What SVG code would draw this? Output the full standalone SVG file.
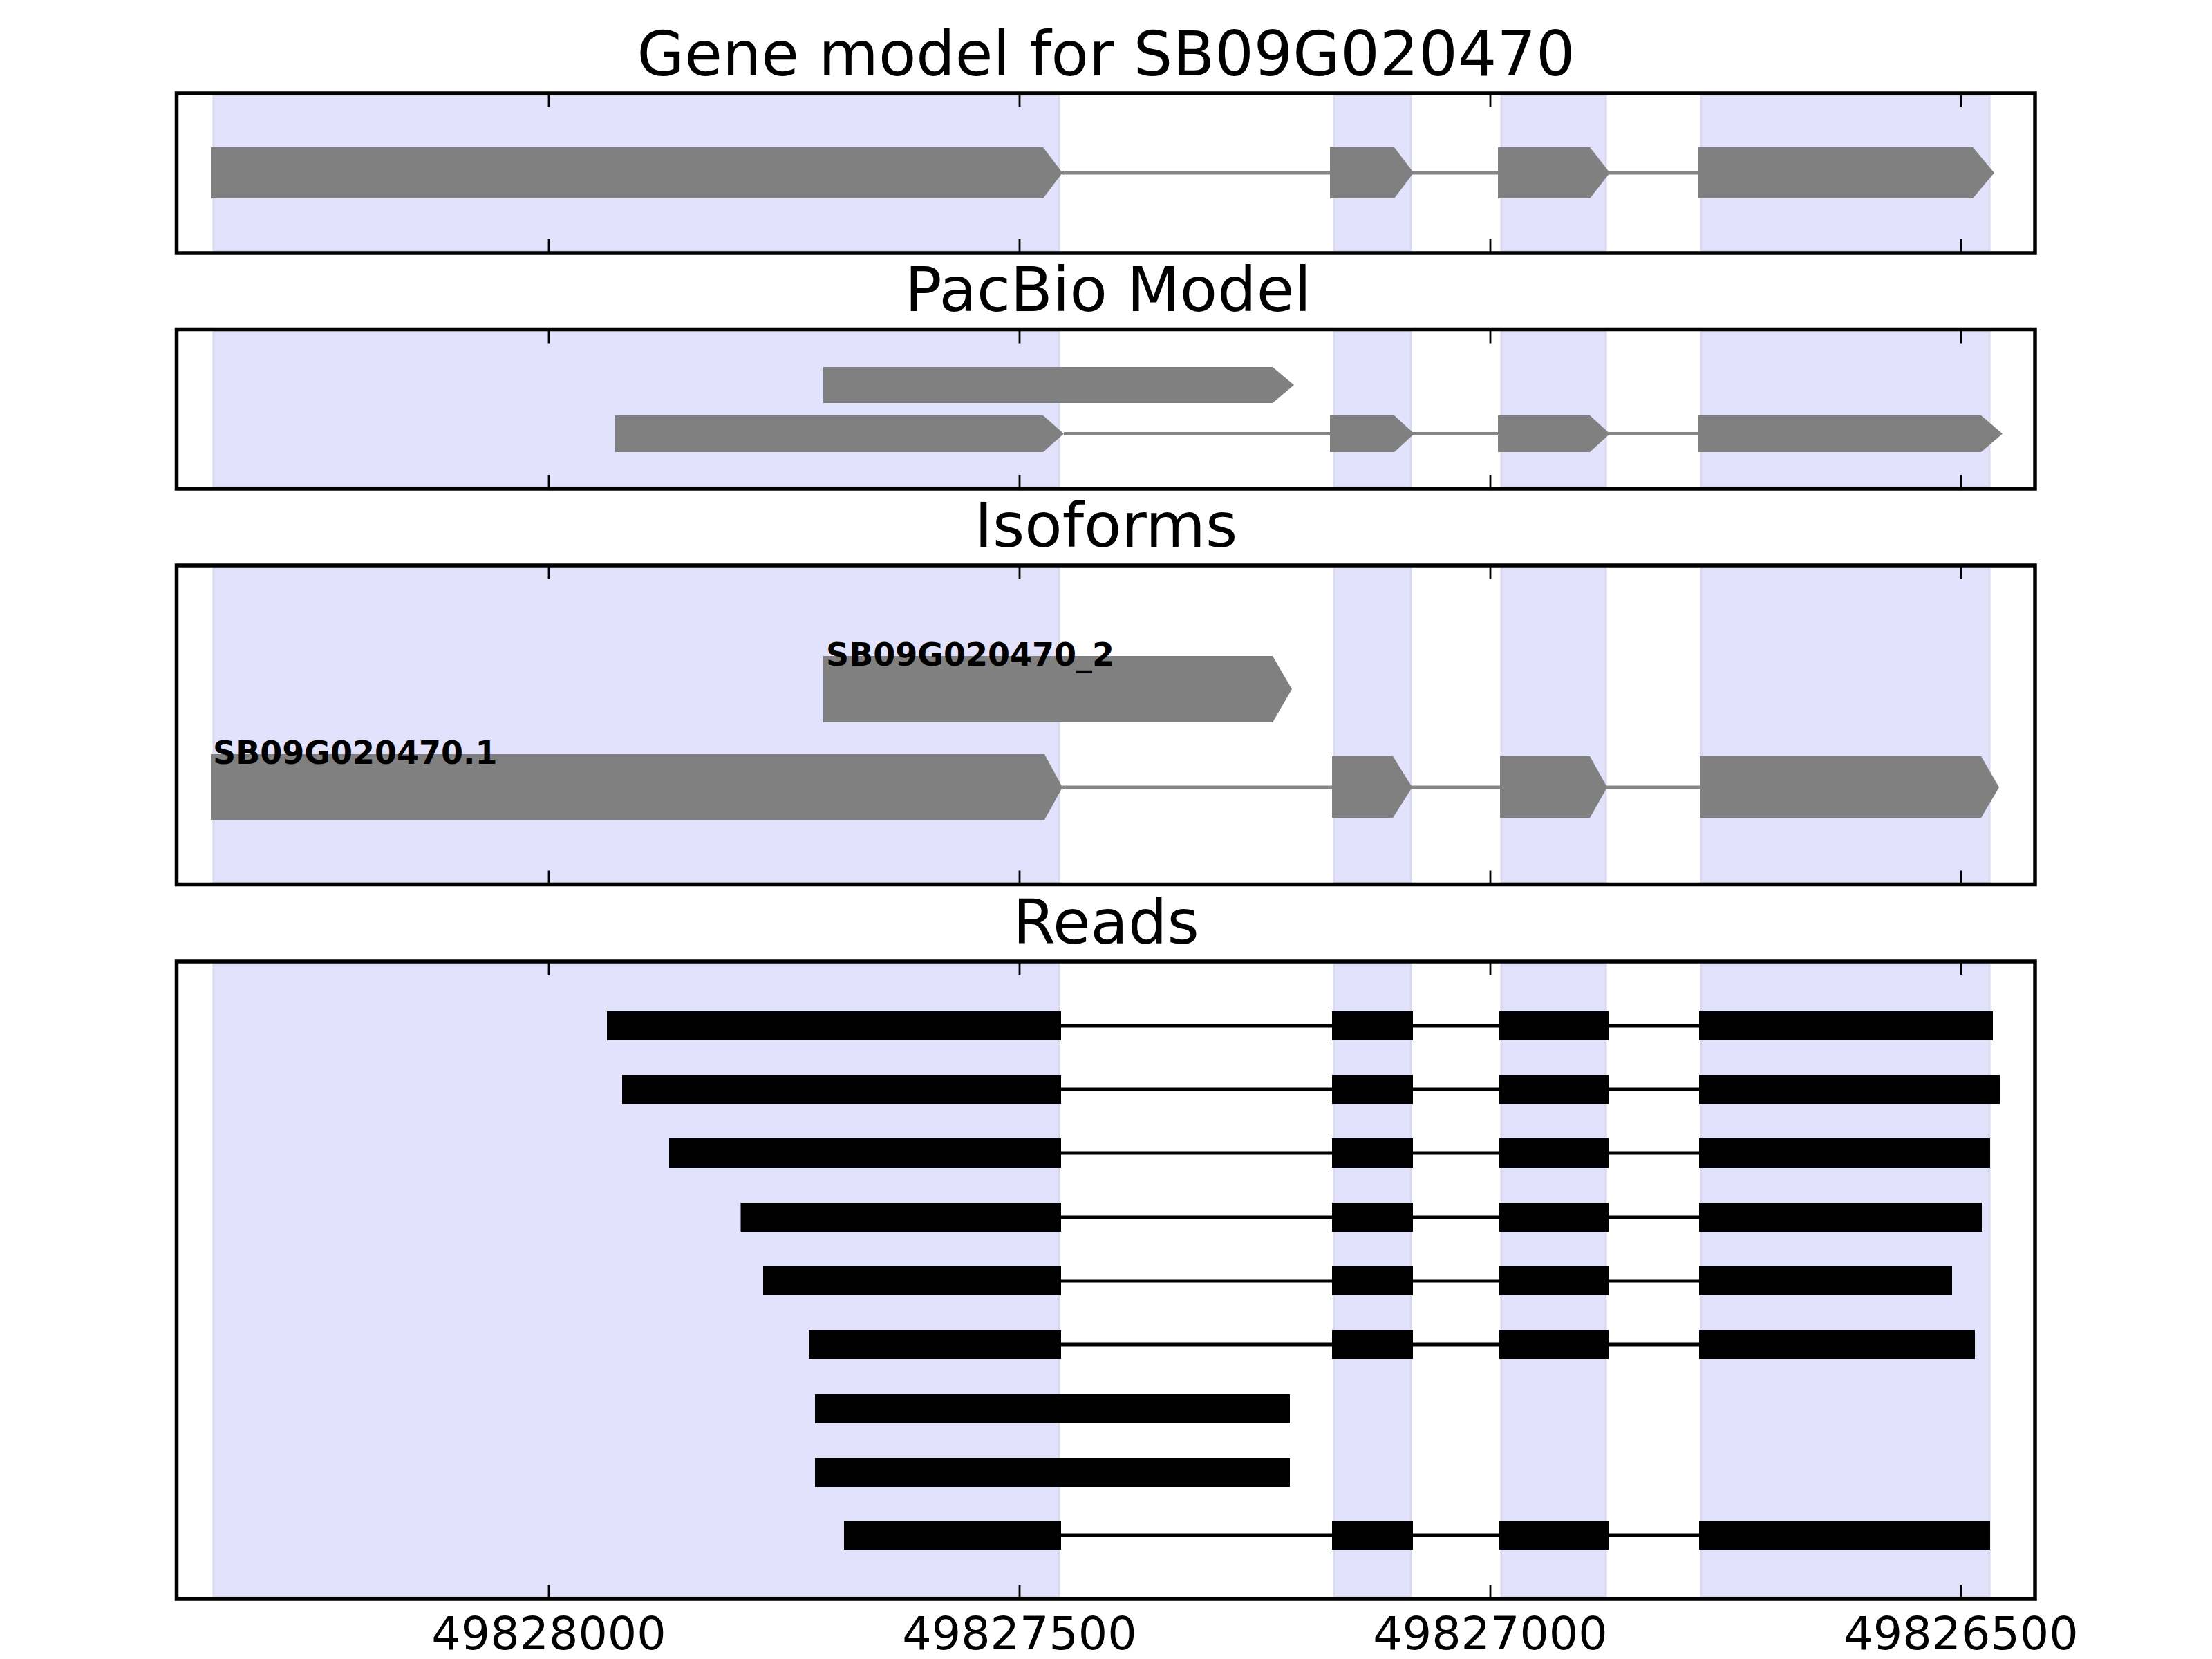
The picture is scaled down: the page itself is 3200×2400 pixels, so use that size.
<svg xmlns="http://www.w3.org/2000/svg" width="3200" height="2400" viewBox="0 0 3200 2400">
<style>
.bg{fill:#ffffff}
.shade{fill:#e2e2fd;stroke:#d8d8ee;stroke-width:3}
.frame{fill:none;stroke:#000;stroke-width:5.5}
.tick{stroke:#000;stroke-width:2.8}
.exon{fill:#808080}
.intron{stroke:#868686;stroke-width:5}
.rexon{fill:#000}
.rintron{stroke:#000;stroke-width:5}
.title{font-family:"DejaVu Sans","Liberation Sans",sans-serif;font-size:88.9px;text-anchor:middle;fill:#000}
.ticklabel{font-family:"DejaVu Sans","Liberation Sans",sans-serif;font-size:66.7px;text-anchor:middle;fill:#000}
.iso{font-family:"DejaVu Sans","Liberation Sans",sans-serif;font-size:46px;font-weight:bold;fill:#000}
</style>
<rect class="bg" x="0" y="0" width="3200" height="2400"/>

<!-- Panel 1: Gene model -->
<g id="panel-gene-model">
<text class="title" x="1600" y="109">Gene model for SB09G020470</text>
<g id="gm-shading">
<rect class="shade" x="309" y="138" width="1223" height="225"/>
<rect class="shade" x="1930" y="138" width="111" height="225"/>
<rect class="shade" x="2172" y="138" width="151" height="225"/>
<rect class="shade" x="2461" y="138" width="417" height="225"/>
</g>
<g id="gm-ticks">
<line class="tick" x1="794" y1="135" x2="794" y2="155"/><line class="tick" x1="794" y1="366" x2="794" y2="346"/>
<line class="tick" x1="1475" y1="135" x2="1475" y2="155"/><line class="tick" x1="1475" y1="366" x2="1475" y2="346"/>
<line class="tick" x1="2156" y1="135" x2="2156" y2="155"/><line class="tick" x1="2156" y1="366" x2="2156" y2="346"/>
<line class="tick" x1="2837" y1="135" x2="2837" y2="155"/><line class="tick" x1="2837" y1="366" x2="2837" y2="346"/>
</g>
<rect class="frame" x="255.5" y="135" width="2688.5" height="231"/>
</g>

<!-- Panel 2: PacBio -->
<g id="panel-pacbio">
<text class="title" x="1603" y="450">PacBio Model</text>
<g id="pb-shading">
<rect class="shade" x="309" y="479.5" width="1223" height="225"/>
<rect class="shade" x="1930" y="479.5" width="111" height="225"/>
<rect class="shade" x="2172" y="479.5" width="151" height="225"/>
<rect class="shade" x="2461" y="479.5" width="417" height="225"/>
</g>
<g id="pb-ticks">
<line class="tick" x1="794" y1="476.5" x2="794" y2="496.5"/><line class="tick" x1="794" y1="707" x2="794" y2="687"/>
<line class="tick" x1="1475" y1="476.5" x2="1475" y2="496.5"/><line class="tick" x1="1475" y1="707" x2="1475" y2="687"/>
<line class="tick" x1="2156" y1="476.5" x2="2156" y2="496.5"/><line class="tick" x1="2156" y1="707" x2="2156" y2="687"/>
<line class="tick" x1="2837" y1="476.5" x2="2837" y2="496.5"/><line class="tick" x1="2837" y1="707" x2="2837" y2="687"/>
</g>
<rect class="frame" x="255.5" y="476.5" width="2688.5" height="230.5"/>
</g>

<!-- Panel 3: Isoforms -->
<g id="panel-isoforms">
<text class="title" x="1600" y="791">Isoforms</text>
<g id="iso-shading">
<rect class="shade" x="309" y="821" width="1223" height="456"/>
<rect class="shade" x="1930" y="821" width="111" height="456"/>
<rect class="shade" x="2172" y="821" width="151" height="456"/>
<rect class="shade" x="2461" y="821" width="417" height="456"/>
</g>
<g id="iso-ticks">
<line class="tick" x1="794" y1="818" x2="794" y2="838"/><line class="tick" x1="794" y1="1279.5" x2="794" y2="1259.5"/>
<line class="tick" x1="1475" y1="818" x2="1475" y2="838"/><line class="tick" x1="1475" y1="1279.5" x2="1475" y2="1259.5"/>
<line class="tick" x1="2156" y1="818" x2="2156" y2="838"/><line class="tick" x1="2156" y1="1279.5" x2="2156" y2="1259.5"/>
<line class="tick" x1="2837" y1="818" x2="2837" y2="838"/><line class="tick" x1="2837" y1="1279.5" x2="2837" y2="1259.5"/>
</g>
<rect class="frame" x="255.5" y="818" width="2688.5" height="461.5"/>
</g>

<!-- Panel 4: Reads -->
<g id="panel-reads">
<text class="title" x="1600" y="1365">Reads</text>
<g id="reads-shading">
<rect class="shade" x="309" y="1394" width="1223" height="916"/>
<rect class="shade" x="1930" y="1394" width="111" height="916"/>
<rect class="shade" x="2172" y="1394" width="151" height="916"/>
<rect class="shade" x="2461" y="1394" width="417" height="916"/>
</g>
<g id="reads-ticks">
<line class="tick" x1="794" y1="1391" x2="794" y2="1411"/><line class="tick" x1="794" y1="2313" x2="794" y2="2293"/>
<line class="tick" x1="1475" y1="1391" x2="1475" y2="1411"/><line class="tick" x1="1475" y1="2313" x2="1475" y2="2293"/>
<line class="tick" x1="2156" y1="1391" x2="2156" y2="1411"/><line class="tick" x1="2156" y1="2313" x2="2156" y2="2293"/>
<line class="tick" x1="2837" y1="1391" x2="2837" y2="1411"/><line class="tick" x1="2837" y1="2313" x2="2837" y2="2293"/>
</g>
<rect class="frame" x="255.5" y="1391" width="2688.5" height="922"/>
<g id="tick-labels">
<text class="ticklabel" x="794" y="2386">49828000</text>
<text class="ticklabel" x="1475" y="2386">49827500</text>
<text class="ticklabel" x="2156" y="2386">49827000</text>
<text class="ticklabel" x="2837" y="2386">49826500</text>
</g>
</g>

<!-- Connectors (introns) -->
<g id="connectors">
<line class="intron" x1="1537" y1="250" x2="2456" y2="250"/>
<line class="intron" x1="1539" y1="627.5" x2="2456" y2="627.5"/>
<line class="intron" x1="1537" y1="1139" x2="2459" y2="1139"/>
<line class="rintron" x1="1535" y1="1484" x2="2458" y2="1484"/>
<line class="rintron" x1="1535" y1="1576" x2="2458" y2="1576"/>
<line class="rintron" x1="1535" y1="1668" x2="2458" y2="1668"/>
<line class="rintron" x1="1535" y1="1761" x2="2458" y2="1761"/>
<line class="rintron" x1="1535" y1="1853" x2="2458" y2="1853"/>
<line class="rintron" x1="1535" y1="1945" x2="2458" y2="1945"/>
<line class="rintron" x1="1535" y1="2221" x2="2458" y2="2221"/>
</g>

<!-- Gene model exons -->
<g id="gene-model-exons">
<polygon class="exon" points="305,213 1509,213 1537,250 1509,287 305,287"/>
<polygon class="exon" points="1924,213 2017,213 2045,250 2017,287 1924,287"/>
<polygon class="exon" points="2167,213 2300,213 2329,250 2300,287 2167,287"/>
<polygon class="exon" points="2456,213 2854,213 2885,250 2854,287 2456,287"/>
</g>

<!-- PacBio exons -->
<g id="pacbio-a">
<polygon class="exon" points="1191,531 1841,531 1872,557 1841,583 1191,583"/>
</g>
<g id="pacbio-b">
<polygon class="exon" points="890,601 1509,601 1539,627.5 1509,654 890,654"/>
<polygon class="exon" points="1924,601 2017,601 2046,627.5 2017,654 1924,654"/>
<polygon class="exon" points="2167,601 2300,601 2329,627.5 2300,654 2167,654"/>
<polygon class="exon" points="2456,601 2866,601 2897,627.5 2866,654 2456,654"/>
</g>

<!-- Isoforms -->
<g id="isoform-2">
<polygon class="exon" points="1191,949 1841,949 1869,997 1841,1045 1191,1045"/>
<text class="iso" x="1195" y="963">SB09G020470_2</text>
</g>
<g id="isoform-1">
<polygon class="exon" points="305,1091 1511,1091 1537,1139 1511,1186 305,1186"/>
<polygon class="exon" points="1927,1094 2015,1094 2043,1139 2015,1183 1927,1183"/>
<polygon class="exon" points="2170,1094 2300,1094 2325,1139 2300,1183 2170,1183"/>
<polygon class="exon" points="2459,1094 2866,1094 2892,1139 2866,1183 2459,1183"/>
<text class="iso" x="308" y="1105">SB09G020470.1</text>
</g>

<!-- Reads -->
<g id="read-1">
<rect class="rexon" x="878" y="1463" width="657" height="42"/>
<rect class="rexon" x="1927" y="1463" width="117" height="42"/>
<rect class="rexon" x="2169" y="1463" width="158" height="42"/>
<rect class="rexon" x="2458" y="1463" width="425" height="42"/>
</g>
<g id="read-2">
<rect class="rexon" x="900" y="1555" width="635" height="42"/>
<rect class="rexon" x="1927" y="1555" width="117" height="42"/>
<rect class="rexon" x="2169" y="1555" width="158" height="42"/>
<rect class="rexon" x="2458" y="1555" width="435" height="42"/>
</g>
<g id="read-3">
<rect class="rexon" x="968" y="1647" width="567" height="42"/>
<rect class="rexon" x="1927" y="1647" width="117" height="42"/>
<rect class="rexon" x="2169" y="1647" width="158" height="42"/>
<rect class="rexon" x="2458" y="1647" width="421" height="42"/>
</g>
<g id="read-4">
<rect class="rexon" x="1071.5" y="1740" width="463.5" height="42"/>
<rect class="rexon" x="1927" y="1740" width="117" height="42"/>
<rect class="rexon" x="2169" y="1740" width="158" height="42"/>
<rect class="rexon" x="2458" y="1740" width="409" height="42"/>
</g>
<g id="read-5">
<rect class="rexon" x="1104" y="1832" width="431" height="42"/>
<rect class="rexon" x="1927" y="1832" width="117" height="42"/>
<rect class="rexon" x="2169" y="1832" width="158" height="42"/>
<rect class="rexon" x="2458" y="1832" width="366" height="42"/>
</g>
<g id="read-6">
<rect class="rexon" x="1170" y="1924" width="365" height="42"/>
<rect class="rexon" x="1927" y="1924" width="117" height="42"/>
<rect class="rexon" x="2169" y="1924" width="158" height="42"/>
<rect class="rexon" x="2458" y="1924" width="399" height="42"/>
</g>
<g id="read-7">
<rect class="rexon" x="1179" y="2017" width="687" height="42"/>
</g>
<g id="read-8">
<rect class="rexon" x="1179" y="2109" width="687" height="42"/>
</g>
<g id="read-9">
<rect class="rexon" x="1221" y="2200" width="314" height="42"/>
<rect class="rexon" x="1927" y="2200" width="117" height="42"/>
<rect class="rexon" x="2169" y="2200" width="158" height="42"/>
<rect class="rexon" x="2458" y="2200" width="421" height="42"/>
</g>
</svg>
